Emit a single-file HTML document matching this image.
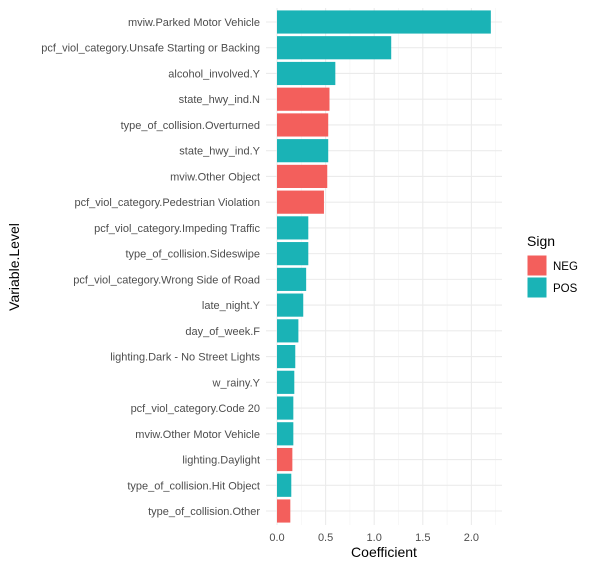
<!DOCTYPE html>
<html><head><meta charset="utf-8"><style>
body{margin:0;background:#fff;font-family:"Liberation Sans",Arial,sans-serif}
</style></head><body>
<svg id="chart" width="591" height="566" xmlns="http://www.w3.org/2000/svg" font-family="Liberation Sans, Arial, sans-serif">
<g id="grid"></g>
<g id="bars"></g>
<g id="ylabels"></g>
<g id="xlabels"></g>
<text x="384" y="557" font-size="14" text-anchor="middle" fill="#000">Coefficient</text>
<text transform="translate(19,267) rotate(-90)" font-size="14" text-anchor="middle" fill="#000">Variable.Level</text>
<g>
<text x="527" y="246" font-size="14">Sign</text>
<rect x="527" y="255" width="20" height="21" fill="#F35F5C" stroke="#fff"/>
<text x="553" y="270" font-size="11.5" fill="#000">NEG</text>
<rect x="527" y="277" width="20" height="21" fill="#1AB3B6" stroke="#fff"/>
<text x="553" y="292" font-size="11.5" fill="#000">POS</text>
</g>
</svg>
<script>
const categories=["mviw.Parked Motor Vehicle","pcf_viol_category.Unsafe Starting or Backing","alcohol_involved.Y","state_hwy_ind.N","type_of_collision.Overturned","state_hwy_ind.Y","mviw.Other Object","pcf_viol_category.Pedestrian Violation","pcf_viol_category.Impeding Traffic","type_of_collision.Sideswipe","pcf_viol_category.Wrong Side of Road","late_night.Y","day_of_week.F","lighting.Dark - No Street Lights","w_rainy.Y","pcf_viol_category.Code 20","mviw.Other Motor Vehicle","lighting.Daylight","type_of_collision.Hit Object","type_of_collision.Other"];
const values=[2.20,1.175,0.60,0.54,0.527,0.527,0.517,0.483,0.322,0.322,0.30,0.27,0.22,0.188,0.178,0.168,0.168,0.158,0.147,0.137];
const signs=["POS","POS","POS","NEG","NEG","POS","NEG","NEG","POS","POS","POS","POS","POS","POS","POS","POS","POS","NEG","POS","NEG"];
const xTicks=[0,0.5,1.0,1.5,2.0];
const xTickLabels=["0.0","0.5","1.0","1.5","2.0"];
const NS="http://www.w3.org/2000/svg";
const colors={NEG:"#F35F5C",POS:"#1AB3B6"};
const panel={left:266,right:502,top:8,bottom:525};
const x0=277,pxPerUnit=97.2;
function xs(v){return x0+v*pxPerUnit;}
const step=(511-22)/(categories.length-1);
function ys(i){return 22+i*step;}
function mk(tag,attrs,parent){const e=document.createElementNS(NS,tag);for(const k in attrs)e.setAttribute(k,attrs[k]);parent.appendChild(e);return e;}
const grid=document.getElementById('grid');
for(let i=0;i<xTicks.length;i++){
  const l=mk('line',{x1:xs(xTicks[i]),x2:xs(xTicks[i]),y1:panel.top,y2:panel.bottom,stroke:'#ebebeb','stroke-width':1.1},grid);
  
  
  const mv=xTicks[i]+0.25;
  if(xs(mv)<panel.right){
    const m=mk('line',{x1:xs(mv),x2:xs(mv),y1:panel.top,y2:panel.bottom,stroke:'#f2f2f2','stroke-width':0.6},grid);
    
    
  }
}
const bars=document.getElementById('bars'),yl=document.getElementById('ylabels'),xl=document.getElementById('xlabels');
categories.forEach((c,i)=>{
  const g=mk('line',{x1:panel.left,x2:panel.right,y1:ys(i),y2:ys(i),stroke:'#ebebeb','stroke-width':1.1},grid);
  
  
});
categories.forEach((c,i)=>{
  const h=step*0.9;
  const r=mk('rect',{x:xs(0),y:ys(i)-h/2,width:xs(values[i])-xs(0),height:h,fill:colors[signs[i]]},bars);
  
  
  const t=mk('text',{x:260,y:ys(i)+4,'font-size':11,'text-anchor':'end',fill:'#4d4d4d'},yl);
  t.textContent=c;
  
  
});
xTicks.forEach((v,i)=>{
  const t=mk('text',{x:xs(v),y:541,'font-size':11,'text-anchor':'middle',fill:'#4d4d4d'},xl);
  t.textContent=xTickLabels[i];
  
  
});
</script>
</body></html>
